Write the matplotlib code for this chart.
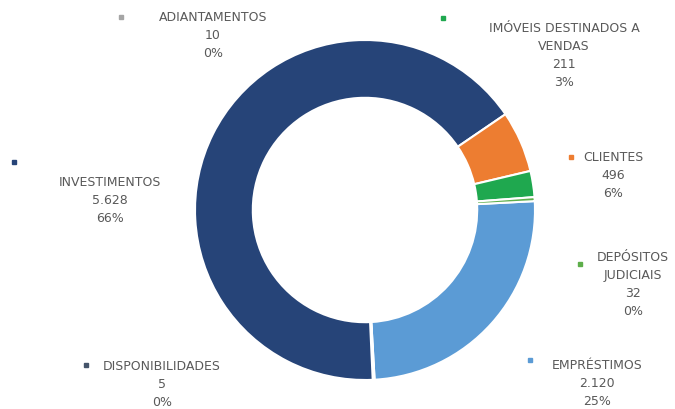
import matplotlib.pyplot as plt

# slice order as drawn, clockwise from the right side
categories = ['EMPRÉSTIMOS', 'DISPONIBILIDADES', 'ADIANTAMENTOS', 'INVESTIMENTOS',
              'CLIENTES', 'IMÓVEIS DESTINADOS A\nVENDAS', 'DEPÓSITOS\nJUDICIAIS']
values = [2120, 5, 10, 5628, 496, 211, 32]
value_labels = ['2.120', '5', '10', '5.628', '496', '211', '32']
pct_labels = ['25%', '0%', '0%', '66%', '6%', '3%', '0%']
colors = ['#5B9BD5', '#44546A', '#A5A5A5', '#264478', '#ED7D31', '#1FA84F', '#5DAE4A']

W, H = 675, 410
cx, cy, R = 365, 211, 170  # donut centre / radius in pixels (from top)

fig = plt.figure(figsize=(W / 100, H / 100), dpi=100)
ax = fig.add_axes([0, 0, 1, 1])
ax.pie(values, colors=colors, radius=1, startangle=3, counterclock=False,
       wedgeprops=dict(width=0.34, edgecolor='white', linewidth=1.5))
ax.set_xlim(-cx / R, (W - cx) / R)
ax.set_ylim(-(H - cy) / R, cy / R)
ax.set_aspect('equal', adjustable='box')
ax.axis('off')

# label block centre x, first-line centre y, and marker position, in pixels
label_pos = {
    'EMPRÉSTIMOS': ((597, 366), (530, 361)),
    'DISPONIBILIDADES': ((162, 367), (86, 366)),
    'ADIANTAMENTOS': ((213, 18), (121, 18)),
    'INVESTIMENTOS': ((110, 183), (14, 163)),
    'CLIENTES': ((613, 158), (571, 158)),
    'IMÓVEIS DESTINADOS A\nVENDAS': ((564, 29), (443, 19)),
    'DEPÓSITOS\nJUDICIAIS': ((633, 258), (580, 265)),
}

for cat, val, pct, col in zip(categories, value_labels, pct_labels, colors):
    (tx, ty), (mx, my) = label_pos[cat]
    txt = f'{cat}\n{val}\n{pct}'
    fig.text(tx / W, 1 - (ty - 7) / H, txt, ha='center', va='top', fontsize=9,
             color='#595959', linespacing=1.5, transform=fig.transFigure,
             fontfamily='DejaVu Sans')
    ax.plot([mx / W], [1 - my / H], marker='s', markersize=3.5, color=col,
            transform=fig.transFigure, clip_on=False)

fig.savefig('out.png', dpi=100)
